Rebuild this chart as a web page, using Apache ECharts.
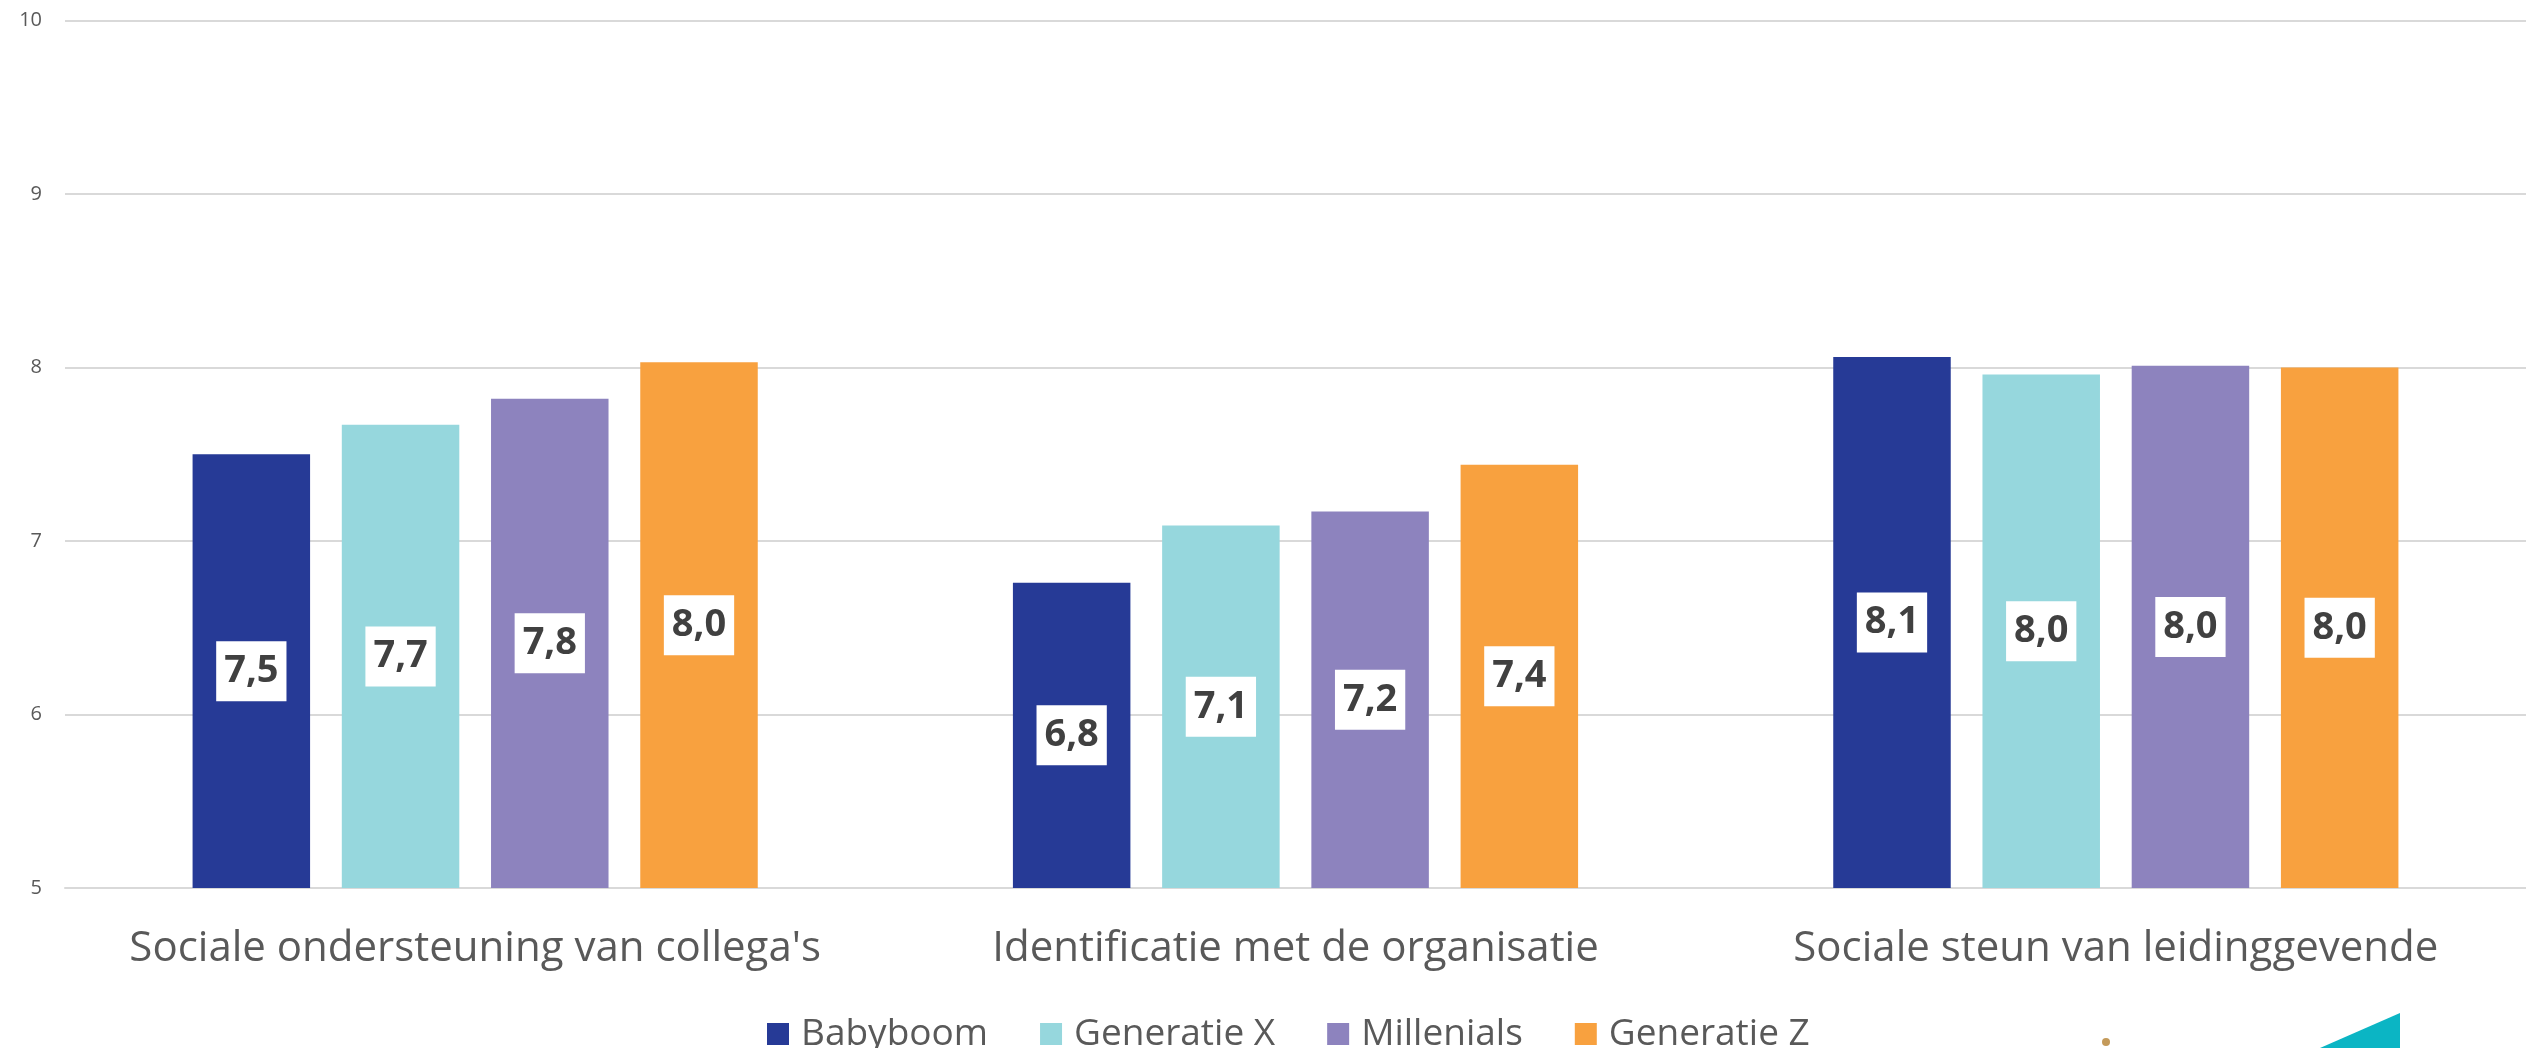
<!DOCTYPE html>
<html>
<head>
<meta charset="utf-8">
<script src="https://cdn.jsdelivr.net/npm/echarts@6/dist/echarts.min.js"></script>
<style>
  html, body { margin: 0; padding: 0; background: #ffffff; }
  #chart { width: 2526px; height: 1048px; }
</style>
</head>
<body>
<div id="chart"></div>
<script>
const categories = ["Sociale ondersteuning van collega's", "Identificatie met de organisatie", "Sociale steun van leidinggevende"];
const seriesNames = ["Babyboom", "Generatie X", "Millenials", "Generatie Z"];
const babyboom = [7.50, 6.76, 8.06];
const generatieX = [7.67, 7.09, 7.96];
const millenials = [7.82, 7.17, 8.01];
const generatieZ = [8.03, 7.44, 8.00];
const seriesValues = [babyboom, generatieX, millenials, generatieZ];
const colors = ["#263A96", "#96D7DD", "#8D83BE", "#F8A13F"];

const chart = echarts.init(document.getElementById('chart'));
const font = "'Open Sans', 'Noto Sans', sans-serif";

const series = seriesNames.map((name, i) => ({
  name: name,
  type: 'bar',
  data: seriesValues[i],
  barWidth: 117.5,
  barGap: '27%',
  itemStyle: { color: colors[i] },
  label: {
    show: true,
    position: 'inside',
    formatter: p => p.value.toFixed(1).replace('.', ','),
    fontFamily: font,
    fontWeight: 'bold',
    fontSize: 38,
    lineHeight: 38,
    color: '#404040',
    backgroundColor: '#ffffff',
    padding: [11, 8, 11, 8]
  }
}));

chart.setOption({
  animation: false,
  backgroundColor: '#ffffff',
  color: colors,
  grid: { left: 65, width: 2471, top: 20.5, bottom: 160 },
  legend: {
    data: seriesNames,
    left: 762,
    top: 1009,
    icon: 'rect',
    itemWidth: 22,
    itemHeight: 22,
    itemGap: 52,
    textStyle: {
      fontFamily: font,
      fontSize: 37,
      lineHeight: 40,
      color: '#595959',
      padding: [0, 0, 0, 7]
    }
  },
  xAxis: {
    type: 'category',
    data: categories,
    axisLine: { show: true, lineStyle: { color: '#d9d9d9', width: 2 } },
    axisTick: { show: false },
    axisLabel: {
      fontFamily: font,
      fontSize: 42,
      color: '#595959',
      margin: 40,
      interval: 0
    }
  },
  yAxis: {
    type: 'value',
    min: 5,
    max: 10,
    interval: 1,
    axisLine: { show: false },
    axisTick: { show: false },
    axisLabel: {
      fontFamily: font,
      fontSize: 20,
      color: '#595959',
      margin: 23
    },
    splitLine: { lineStyle: { color: '#d9d9d9', width: 2 } }
  },
  graphic: [
    {
      type: 'polygon',
      shape: { points: [[2400, 1013], [2400, 1048], [2320, 1048]] },
      style: { fill: '#0BB5C4' },
      silent: true
    },
    {
      type: 'circle',
      shape: { cx: 2106, cy: 1042, r: 4 },
      style: { fill: '#C49A5A' },
      silent: true
    }
  ],
  series: series
});
</script>
</body>
</html>
